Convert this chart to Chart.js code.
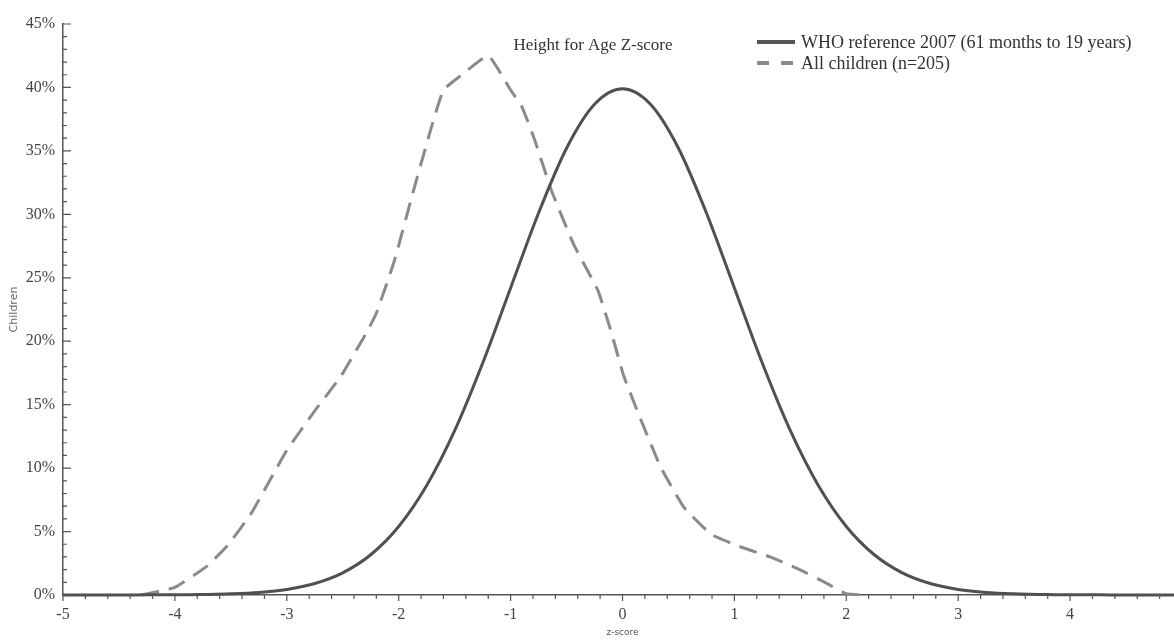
<!DOCTYPE html>
<html>
<head>
<meta charset="utf-8">
<script src="https://cdn.jsdelivr.net/npm/chart.js@4.4.1/dist/chart.umd.min.js"></script>
<style>
  html, body { margin: 0; padding: 0; background: #fff; overflow: hidden; }
  #wrap { position: relative; width: 1200px; height: 640px; }
</style>
</head>
<body>
<div id="wrap"><canvas id="chart"></canvas></div>
<script>
// WHO reference curve (z-score, % of children)
const whoZ = [-5, -4.75, -4.5, -4.25, -4, -3.75, -3.5, -3.25, -3, -2.75, -2.5, -2.25, -2, -1.75, -1.5, -1.25, -1, -0.75, -0.5, -0.25,
  0, 0.25, 0.5, 0.75, 1, 1.25, 1.5, 1.75, 2, 2.25, 2.5, 2.75, 3, 3.25, 3.5, 3.75, 4, 4.25, 4.5, 4.75, 5]
const whoPct = [0, 0, 0, 0.01, 0.01, 0.04, 0.09, 0.2, 0.44, 0.91, 1.75, 3.17, 5.4, 8.63, 12.95, 18.26, 24.2, 30.11, 35.21, 38.67,
  39.89, 38.67, 35.21, 30.11, 24.2, 18.26, 12.95, 8.63, 5.4, 3.17, 1.75, 0.91, 0.44, 0.2, 0.09, 0.04, 0.01, 0.01, 0, 0, 0]

// All children (n=205)
const childZ = [-4.3, -4.0, -3.71, -3.53, -3.32, -3.11, -3.0, -2.76, -2.52, -2.28, -2.2, -2.04, -1.87, -1.71, -1.6, -1.45, -1.2,
  -1.0, -0.9, -0.79, -0.64, -0.44, -0.22, -0.11, 0.01, 0.16, 0.34, 0.55, 0.79, 1.02, 1.32, 1.56, 1.83, 2.0, 2.2]
const childPct = [0, 0.6, 2.3, 3.9, 6.4, 9.7, 11.4, 14.4, 17.2, 20.8, 22.2, 26.3, 31.8, 36.8, 39.8, 40.9, 42.5,
  39.8, 38.5, 36.0, 32.0, 27.7, 24.0, 21.0, 17.3, 13.9, 10.1, 6.9, 4.8, 3.9, 3.0, 2.1, 0.9, 0.1, 0]

const seriesNames = ["WHO reference 2007 (61 months to 19 years)", "All children (n=205)"]
const chartTitle = "Height for Age Z-score"
const xTitle = "z-score"
const yTitle = "Children"

const serif = "'Liberation Serif', 'DejaVu Serif', serif"

// minor/major tick marks on both axes
const tickMarks = {
  id: "tickMarks",
  afterDraw(chart){
    const ctx = chart.ctx
    const x = chart.scales.x, y = chart.scales.y
    const area = chart.chartArea
    ctx.save()
    ctx.strokeStyle = "#555"
    ctx.lineWidth = 1.2
    ctx.beginPath()
    for(let i = -25; i <= 25; i++){
      const px = x.getPixelForValue(i / 5)
      const len = i % 5 === 0 ? 6 : 4
      ctx.moveTo(px, area.bottom)
      ctx.lineTo(px, area.bottom + len)
    }
    for(let i = 0; i <= 45; i++){
      const py = y.getPixelForValue(i)
      const len = i % 5 === 0 ? 8 : 4
      ctx.moveTo(area.left, py)
      ctx.lineTo(area.left + len, py)
    }
    ctx.stroke()
    ctx.restore()
  }
}

// title and legend sit inside the plot area
const titleLegend = {
  id: "titleLegend",
  afterDraw(chart){
    const ctx = chart.ctx
    ctx.save()
    ctx.font = "17px " + serif
    ctx.fillStyle = "#333"
    ctx.textBaseline = "middle"
    ctx.textAlign = "center"
    ctx.fillText(chartTitle, 593, 46)

    ctx.font = "18px " + serif
    ctx.textAlign = "left"
    ctx.lineWidth = 4
    ctx.strokeStyle = "#555"
    ctx.beginPath(); ctx.moveTo(757, 42); ctx.lineTo(795, 42); ctx.stroke()
    ctx.fillText(seriesNames[0], 801, 43)

    ctx.strokeStyle = "#8a8a8a"
    ctx.setLineDash([12, 12])
    ctx.beginPath(); ctx.moveTo(757, 63); ctx.lineTo(795, 63); ctx.stroke()
    ctx.setLineDash([])
    ctx.fillText(seriesNames[1], 801, 64)
    ctx.restore()
  }
}

const ctx = document.getElementById("chart").getContext("2d")

new Chart(ctx, {
  type: "line",
  data: {
    datasets: [
      {
        label: seriesNames[0],
        data: whoZ.map((z, i) => ({x: z, y: whoPct[i]})),
        borderColor: "#505050",
        borderWidth: 3,
        pointRadius: 0,
        cubicInterpolationMode: "monotone",
        fill: false,
        clip: false
      },
      {
        label: seriesNames[1],
        data: childZ.map((z, i) => ({x: z, y: childPct[i]})),
        borderColor: "#8a8a8a",
        borderWidth: 3,
        borderDash: [18, 10],
        pointRadius: 0,
        tension: 0.12,
        fill: false,
        clip: false
      }
    ]
  },
  options: {
    responsive: true,
    maintainAspectRatio: false,
    animation: false,
    layout: { padding: { top: 24, right: 18, bottom: 0, left: 0 } },
    plugins: {
      legend: { display: false },
      title: { display: false },
      tooltip: { enabled: false }
    },
    scales: {
      x: {
        type: "linear",
        min: -5,
        max: 5,
        afterFit(scale){ scale.height = 45 },
        border: { display: true, color: "#555", width: 1.5 },
        grid: { display: false, drawTicks: false },
        ticks: {
          stepSize: 1,
          padding: 10,
          color: "#444",
          font: { family: serif, size: 16 }
        },
        title: {
          display: true,
          text: xTitle,
          color: "#555",
          font: { family: "'DejaVu Sans', sans-serif", size: 9 },
          padding: { top: 0, bottom: 2 }
        }
      },
      y: {
        min: 0,
        max: 45,
        afterFit(scale){ scale.width = 63 },
        border: { display: true, color: "#555", width: 1.5 },
        grid: { display: false, drawTicks: false },
        ticks: {
          stepSize: 5,
          padding: 8,
          color: "#444",
          font: { family: serif, size: 16 },
          callback: v => v + "%"
        },
        title: {
          display: true,
          text: yTitle,
          color: "#666",
          font: { family: "'DejaVu Sans', sans-serif", size: 11 },
          padding: { top: 8, bottom: 0 }
        }
      }
    }
  },
  plugins: [tickMarks, titleLegend]
})
</script>
</body>
</html>
